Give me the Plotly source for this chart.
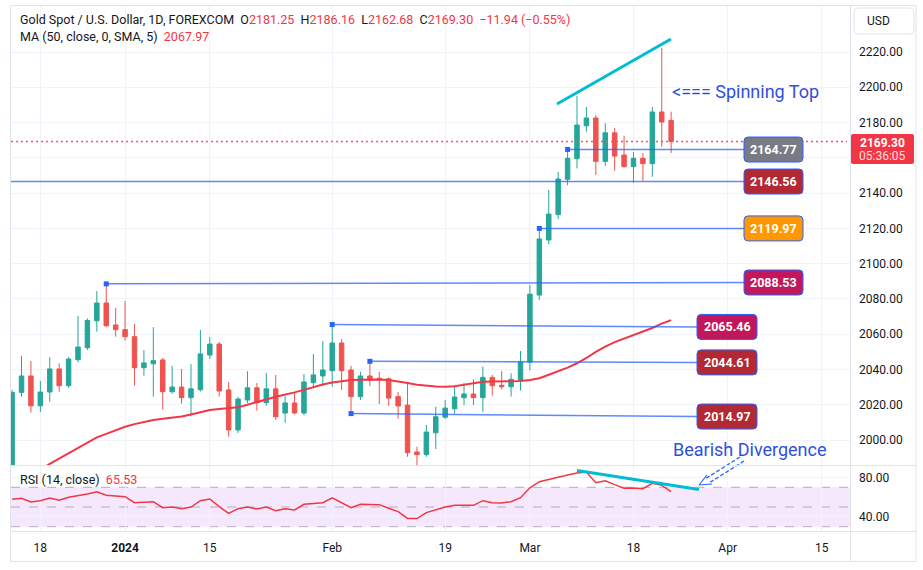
import plotly.graph_objects as go

# ---------------- data ----------------
dates = ["2023-12-13", "2023-12-14", "2023-12-15", "2023-12-18", "2023-12-19", "2023-12-20", "2023-12-21",
         "2023-12-22", "2023-12-26", "2023-12-27", "2023-12-28", "2023-12-29", "2024-01-02", "2024-01-03",
         "2024-01-04", "2024-01-05", "2024-01-08", "2024-01-09", "2024-01-10", "2024-01-11", "2024-01-12",
         "2024-01-15", "2024-01-16", "2024-01-17", "2024-01-18", "2024-01-19", "2024-01-22", "2024-01-23",
         "2024-01-24", "2024-01-25", "2024-01-26", "2024-01-29", "2024-01-30", "2024-01-31", "2024-02-01",
         "2024-02-02", "2024-02-05", "2024-02-06", "2024-02-07", "2024-02-08", "2024-02-09", "2024-02-12",
         "2024-02-13", "2024-02-14", "2024-02-15", "2024-02-16", "2024-02-19", "2024-02-20", "2024-02-21",
         "2024-02-22", "2024-02-23", "2024-02-26", "2024-02-27", "2024-02-28", "2024-02-29", "2024-03-01",
         "2024-03-04", "2024-03-05", "2024-03-06", "2024-03-07", "2024-03-08", "2024-03-11", "2024-03-12",
         "2024-03-13", "2024-03-14", "2024-03-15", "2024-03-18", "2024-03-19", "2024-03-20", "2024-03-21",
         "2024-03-22"]

opens = [1981.6, 2027.0, 2036.3, 2019.4, 2027.2, 2040.3, 2030.8, 2045.5, 2052.3, 2067.6, 2077.7, 2065.2,
         2062.6, 2058.6, 2041.0, 2043.2, 2045.4, 2027.4, 2030.0, 2024.0, 2028.5, 2048.2, 2054.4, 2028.4,
         2005.7, 2022.7, 2029.6, 2021.2, 2029.0, 2015.3, 2021.0, 2015.3, 2032.5, 2036.3, 2039.3, 2055.0,
         2039.7, 2024.6, 2036.3, 2035.0, 2034.7, 2024.6, 2019.8, 1993.2, 1991.7, 2004.1, 2012.9, 2017.7,
         2024.0, 2026.1, 2024.0, 2035.5, 2031.0, 2030.2, 2034.0, 2044.2, 2082.2, 2113.4, 2127.8, 2147.8,
         2159.5, 2178.2, 2182.6, 2158.0, 2174.2, 2161.6, 2155.0, 2159.7, 2156.7, 2186.0, 2181.25]
highs = [2028.4, 2047.6, 2044.8, 2033.5, 2047.0, 2043.5, 2047.0, 2070.4, 2069.0, 2084.5, 2088.5, 2074.8,
         2078.8, 2065.8, 2051.0, 2064.0, 2046.6, 2042.0, 2040.3, 2043.0, 2062.4, 2058.4, 2055.6, 2032.9,
         2024.5, 2039.0, 2032.3, 2038.0, 2036.9, 2025.0, 2026.8, 2037.4, 2048.8, 2056.1, 2065.5, 2057.3,
         2042.0, 2038.7, 2044.6, 2038.7, 2035.5, 2027.2, 2031.8, 1996.2, 2008.5, 2018.9, 2022.7, 2030.8,
         2032.3, 2034.4, 2041.6, 2036.9, 2039.1, 2037.8, 2050.5, 2088.0, 2120.0, 2141.8, 2152.0, 2164.8,
         2195.0, 2188.8, 2184.3, 2179.7, 2177.0, 2172.5, 2163.3, 2162.7, 2188.8, 2222.4, 2186.16]
lows = [1973.1, 2024.6, 2015.5, 2015.9, 2021.7, 2027.4, 2029.5, 2044.0, 2051.0, 2061.4, 2064.0, 2058.6,
        2056.3, 2030.8, 2036.4, 2024.6, 2017.2, 2026.2, 2020.6, 2013.4, 2027.5, 2045.9, 2024.6, 2001.9,
        2004.0, 2021.0, 2016.6, 2019.4, 2011.5, 2009.8, 2014.5, 2014.0, 2029.3, 2030.8, 2030.2, 2028.4,
        2015.0, 2022.7, 2030.6, 2020.4, 2019.4, 2012.1, 1990.5, 1984.5, 1990.5, 1994.9, 2012.0, 2015.0,
        2019.8, 2019.8, 2016.0, 2025.1, 2028.7, 2024.6, 2028.0, 2039.5, 2079.4, 2111.0, 2125.3, 2144.4,
        2154.0, 2174.8, 2150.3, 2155.4, 2152.7, 2154.5, 2145.9, 2147.0, 2149.3, 2166.3, 2162.68]
closes = [2027.0, 2036.3, 2019.4, 2027.2, 2040.3, 2030.8, 2045.9, 2052.7, 2067.8, 2077.7, 2064.8, 2062.6,
          2058.6, 2041.0, 2043.7, 2045.0, 2027.4, 2030.0, 2024.0, 2029.0, 2048.8, 2054.4, 2027.8, 2005.7,
          2023.2, 2029.6, 2021.2, 2029.0, 2013.2, 2021.0, 2015.3, 2032.9, 2036.9, 2039.7, 2055.0, 2039.3,
          2024.6, 2036.3, 2034.0, 2034.0, 2023.8, 2019.3, 1992.8, 1991.7, 2004.5, 2013.2, 2018.1, 2024.4,
          2026.1, 2024.0, 2035.5, 2030.8, 2030.2, 2034.4, 2044.2, 2082.7, 2114.0, 2128.1, 2148.0, 2159.7,
          2178.6, 2182.6, 2158.0, 2174.2, 2161.0, 2155.0, 2159.7, 2156.7, 2186.0, 2180.3, 2169.30]
ma50 = [1974.0, 1977.0, 1980.0, 1983.0, 1986.5, 1989.5, 1992.5, 1995.5, 1998.5, 2001.5, 2003.5, 2005.5,
        2007.5, 2009.0, 2010.3, 2011.3, 2012.0, 2012.7, 2013.3, 2014.5, 2015.7, 2017.0, 2017.6, 2018.0,
        2018.5, 2020.0, 2021.7, 2023.0, 2024.5, 2025.6, 2027.0, 2028.4, 2030.0, 2031.5, 2032.6, 2033.4,
        2034.0, 2034.2, 2034.3, 2034.3, 2034.0, 2033.3, 2032.3, 2031.3, 2030.7, 2030.3, 2030.2, 2030.5,
        2031.3, 2032.2, 2033.0, 2033.2, 2033.2, 2033.2, 2033.4, 2034.0, 2035.0, 2037.0, 2039.0, 2041.0,
        2043.5, 2046.5, 2050.0, 2053.0, 2055.5, 2057.5, 2059.5, 2061.3, 2063.5, 2066.0, 2067.97]
rsi14 = [57.8, 58.8, 55.1, 56.4, 59.1, 56.8, 59.8, 61.2, 63.2, 65.5, 61.9, 61.2, 60.5, 54.4, 55.1, 55.4,
         49.3, 50.0, 48.3, 50.0, 56.4, 58.1, 50.3, 43.5, 48.3, 50.0, 48.0, 50.0, 46.3, 48.3, 47.0, 52.7,
         53.5, 54.4, 59.4, 54.4, 49.3, 52.7, 52.4, 52.4, 48.7, 45.3, 38.4, 38.2, 44.3, 47.3, 50.0, 51.7,
         52.0, 51.7, 56.4, 54.4, 54.1, 55.4, 59.4, 69.5, 75.7, 78.1, 80.8, 82.5, 84.5, 85.5, 74.7, 76.7,
         72.7, 69.0, 69.3, 68.6, 74.1, 72.0, 65.53]

tick_index = [3, 12, 21, 34, 46, 55, 66, 76, 86]
tick_labels = ["18", "<b>2024</b>", "15", "Feb", "19", "Mar", "18", "Apr", "15"]
price_ticks = [2000, 2020, 2040, 2060, 2080, 2100, 2120, 2140, 2160, 2180, 2200, 2220]
rsi_ticks = [40, 80]

level_values = [2164.77, 2146.56, 2119.97, 2088.53, 2065.46, 2044.61, 2014.97]
level_start_dates = ["2024-03-07", None, "2024-03-04", "2023-12-28", "2024-02-01", "2024-02-07", "2024-02-05"]
level_end_values = [2164.7, 2146.56, 2119.97, 2089.3, 2064.1, 2044.0, 2013.3]
level_colors = ["#787b86", "#b22833", "#ff9800", "#c2185b", "#c2185b", "#b22833", "#b22833"]

last_open, last_high, last_low, last_close = 2181.25, 2186.16, 2162.68, 2169.30
change, change_pct = -11.94, -0.55
ma_last, rsi_last = 2067.97, 65.53

# ---------------- geometry helpers ----------------
L, R, T, B = 11, 850, 6, 531
W, H = 923, 570
BAR0, BAR_W = 12.1, 9.415
PANE_BOTTOM, RSI_TOP = 465, 466


def px_x(p):
    return (p - L) / (R - L)


def px_y(p):
    return (B - p) / (B - T)


def idx_from_px(p):
    return (p - BAR0) / BAR_W


P_PER_PX = 1.7636


def price_from_px(p):
    return 2000 + (440 - p) / P_PER_PX


def rsi_from_px(p):
    return 70 - (p - 487.3) / 0.985


idx = list(range(len(dates)))
pos = {d: i for i, d in enumerate(dates)}

RED = "#f23645"
GREEN = "#26a69a"
CAND_RED = "#ef5350"
BLUE = "#2962ff"
TXT = "#131722"
GRID = "#f0f3fa"
BORDER = "#e0e3eb"
FONT = "Roboto"

fig = go.Figure()

fig.add_trace(go.Candlestick(
    x=idx, open=opens, high=highs, low=lows, close=closes,
    increasing=dict(line=dict(color=GREEN, width=1), fillcolor=GREEN),
    decreasing=dict(line=dict(color=CAND_RED, width=1), fillcolor=CAND_RED),
    whiskerwidth=0, hoverinfo="skip", xaxis="x", yaxis="y", showlegend=False))

fig.add_trace(go.Scatter(x=idx, y=ma50, mode="lines", line=dict(color=RED, width=2),
                         hoverinfo="skip", showlegend=False, xaxis="x", yaxis="y"))

fig.add_trace(go.Scatter(x=idx, y=rsi14, mode="lines", line=dict(color=RED, width=1.5),
                         hoverinfo="skip", showlegend=False, xaxis="x2", yaxis="y2"))

shapes = []
annotations = []

# RSI band and dashed levels
shapes.append(dict(type="rect", xref="x2 domain", yref="y2", x0=0, x1=1, y0=30, y1=70,
                   fillcolor="rgba(160,50,225,0.11)", line=dict(width=0), layer="below"))
for lv in (70, 50, 30):
    shapes.append(dict(type="line", xref="x2 domain", yref="y2", x0=0, x1=1, y0=lv, y1=lv,
                       line=dict(color="rgba(120,123,134,0.55)", width=1, dash="dash"), layer="below"))

# current price dotted line (pixel-aligned)
shapes.append(dict(type="line", xref="paper", yref="paper", x0=0, x1=px_x(847),
                   y0=px_y(141.5), y1=px_y(141.5),
                   line=dict(color="#f7525f", width=1.3, dash="2px,3px")))

# level rays with start points and value tags
dot_x, dot_y = [], []
tag_right_px = (744, 803)
tag_left_px = (697, 757)
for k, (val, sd, ev, col) in enumerate(zip(level_values, level_start_dates, level_end_values, level_colors)):
    left_group = k >= 4
    end_px = tag_left_px[0] if left_group else tag_right_px[0]
    x_end = idx_from_px(end_px)
    x_start = pos[sd] if sd else idx_from_px(L - 2)
    shapes.append(dict(type="line", xref="x", yref="y", x0=x_start, x1=x_end, y0=val, y1=ev,
                       line=dict(color="rgba(41,98,255,0.75)", width=1.5)))
    if sd:
        dot_x.append(pos[sd])
        dot_y.append(val)
    cx_px = (tag_left_px if left_group else tag_right_px)
    cx = idx_from_px((cx_px[0] + cx_px[1]) / 2)
    w, h, r = cx_px[1] - cx_px[0], 25, 4
    hw, hh = w / 2, h / 2
    path = (f"M {-hw + r},{-hh} L {hw - r},{-hh} Q {hw},{-hh} {hw},{-hh + r} L {hw},{hh - r} "
            f"Q {hw},{hh} {hw - r},{hh} L {-hw + r},{hh} Q {-hw},{hh} {-hw},{hh - r} "
            f"L {-hw},{-hh + r} Q {-hw},{-hh} {-hw + r},{-hh} Z")
    shapes.append(dict(type="path", xref="x", yref="y", xsizemode="pixel", ysizemode="pixel",
                       xanchor=cx, yanchor=ev, path=path, fillcolor=col,
                       line=dict(color=BLUE, width=1)))
    annotations.append(dict(x=cx, y=ev, xref="x", yref="y", text=f"<b>{val:.2f}</b>", showarrow=False,
                            font=dict(family=FONT, size=12.5, color="white"), xanchor="center",
                            yanchor="middle"))

fig.add_trace(go.Scatter(x=dot_x, y=dot_y, mode="markers",
                         marker=dict(symbol="square", size=5, color=BLUE),
                         hoverinfo="skip", showlegend=False, xaxis="x", yaxis="y", cliponaxis=False))

# cyan trend lines
shapes.append(dict(type="line", xref="x", yref="y", x0=idx_from_px(557), y0=price_from_px(104),
                   x1=idx_from_px(671), y1=price_from_px(39), line=dict(color="#00bcd4", width=3)))
shapes.append(dict(type="line", xref="x2", yref="y2", x0=idx_from_px(577), y0=rsi_from_px(470.5),
                   x1=idx_from_px(699), y1=rsi_from_px(489.5), line=dict(color="#00bcd4", width=3)))

# dashed double arrow (Bearish Divergence)
def pline(x0, y0, x1, y1, color=BLUE, width=1.3, dash="dash"):
    shapes.append(dict(type="line", xref="paper", yref="paper", x0=px_x(x0), y0=px_y(y0),
                       x1=px_x(x1), y1=px_y(y1), line=dict(color=color, width=width, dash=dash)))

pline(740, 457, 705, 479, dash="4px,2px")
pline(744, 461, 709, 483, dash="4px,2px")
pline(699, 485, 707, 475, dash="solid", width=1.2)
pline(699, 485, 712, 484, dash="solid", width=1.2)

# frame and separators
shapes.append(dict(type="rect", xref="paper", yref="paper", x0=px_x(10.5), x1=px_x(916), y0=px_y(5.5),
                   y1=px_y(561.5), line=dict(color=BORDER, width=1), layer="above"))
pline(850.5, 5.5, 850.5, 561.5, color=BORDER, width=1, dash="solid")
pline(10.5, 465.5, 916, 465.5, color=BORDER, width=1, dash="solid")
pline(10.5, 531.5, 916, 531.5, color=BORDER, width=1, dash="solid")

# USD button
def rounded(x0, y0, x1, y1, r, fill, line_col, lw=1):
    X0, X1, Y0, Y1 = px_x(x0), px_x(x1), px_y(y0), px_y(y1)
    rx = r / (R - L)
    ry = r / (B - T)
    path = (f"M {X0 + rx},{Y0} L {X1 - rx},{Y0} Q {X1},{Y0} {X1},{Y0 - ry} L {X1},{Y1 + ry} "
            f"Q {X1},{Y1} {X1 - rx},{Y1} L {X0 + rx},{Y1} Q {X0},{Y1} {X0},{Y1 + ry} "
            f"L {X0},{Y0 - ry} Q {X0},{Y0} {X0 + rx},{Y0} Z")
    shapes.append(dict(type="path", xref="paper", yref="paper", path=path, fillcolor=fill,
                       line=dict(color=line_col, width=lw)))

rounded(854, 8, 914, 34, 4, "white", BORDER)
annotations.append(dict(x=px_x(865), y=px_y(21), xref="paper", yref="paper", text="USD", showarrow=False,
                        xanchor="left", yanchor="middle", font=dict(family=FONT, size=12, color=TXT)))

# last price tag on axis
rounded(851, 134, 914, 164, 2, RED, RED, 0)
annotations.append(dict(x=px_x(882), y=px_y(142.5), xref="paper", yref="paper", text=f"<b>{last_close:.2f}</b>",
                        showarrow=False, xanchor="center", yanchor="middle",
                        font=dict(family=FONT, size=12, color="white")))
annotations.append(dict(x=px_x(882), y=px_y(156.5), xref="paper", yref="paper", text="05:36:05",
                        showarrow=False, xanchor="center", yanchor="middle",
                        font=dict(family=FONT, size=12, color="rgba(255,255,255,0.85)")))

# header text
sp = "\u00a0"
def red(s):
    return f'<span style="color:{RED}">{s}</span>'

head1 = (f"Gold Spot / U.S. Dollar, 1D, FOREXCOM{sp}{sp}O{red(f'{last_open:.2f}')}{sp}{sp}"
         f"H{red(f'{last_high:.2f}')}{sp}{sp}L{red(f'{last_low:.2f}')}{sp}{sp}C{red(f'{last_close:.2f}')}"
         f"{sp}{sp}{red(f'−{abs(change):.2f} (−{abs(change_pct):.2f}%)')}")
head2 = f"MA (50, close, 0, SMA, 5){sp}{sp}{red(f'{ma_last:.2f}')}"
head3 = f"RSI (14, close){sp}{sp}{red(f'{rsi_last:.2f}')}"
for txt, yy in ((head1, 19.5), (head2, 36.5), (head3, 480)):
    annotations.append(dict(x=px_x(18), y=px_y(yy), xref="paper", yref="paper", text=txt, showarrow=False,
                            xanchor="left", yanchor="middle", font=dict(family=FONT, size=12.5, color=TXT)))

annotations.append(dict(x=px_x(670), y=px_y(91.5), xref="paper", yref="paper", text="<=== Spinning Top",
                        showarrow=False, xanchor="left", yanchor="middle",
                        font=dict(family=FONT, size=18, color="#2f4fe0")))
annotations.append(dict(x=px_x(671), y=px_y(449), xref="paper", yref="paper", text="Bearish Divergence",
                        showarrow=False, xanchor="left", yanchor="middle",
                        font=dict(family=FONT, size=18, color="#2f4fe0")))

x_range = [idx_from_px(L), idx_from_px(R)]
y_range = [price_from_px(PANE_BOTTOM), price_from_px(T)]
r_range = [rsi_from_px(B), rsi_from_px(RSI_TOP)]

fig.update_layout(
    width=W, height=H, margin=dict(l=L, r=W - R, t=T, b=H - B),
    paper_bgcolor="white", plot_bgcolor="white", showlegend=False,
    boxgap=0.32,
    font=dict(family=FONT, size=12, color=TXT),
    xaxis=dict(domain=[0, 1], anchor="y", range=x_range, tickvals=tick_index, showticklabels=False,
               showgrid=True, gridcolor=GRID, gridwidth=1, zeroline=False, showline=False,
               rangeslider=dict(visible=False), fixedrange=True),
    yaxis=dict(domain=[px_y(PANE_BOTTOM), 1], anchor="x", side="right", range=y_range,
               tickvals=price_ticks, ticktext=["" if v == 2160 else f"{v:.2f}" for v in price_ticks],
               showgrid=True, gridcolor=GRID, zeroline=False, showline=False, ticks="",
               ticklabelstandoff=8, tickfont=dict(family=FONT, size=12, color=TXT)),
    xaxis2=dict(domain=[0, 1], anchor="y2", matches="x", range=x_range, tickvals=tick_index,
                ticktext=tick_labels, showgrid=True, gridcolor=GRID, zeroline=False, showline=False,
                ticks="", ticklabelstandoff=8, tickfont=dict(family=FONT, size=12, color=TXT)),
    yaxis2=dict(domain=[0, px_y(RSI_TOP)], anchor="x2", side="right", range=r_range,
                tickvals=rsi_ticks, ticktext=[f"{v:.2f}" for v in rsi_ticks], showgrid=True,
                gridcolor=GRID, zeroline=False, showline=False, ticks="", ticklabelstandoff=8,
                tickfont=dict(family=FONT, size=12, color=TXT)),
    shapes=shapes, annotations=annotations,
)

fig.write_html("out.html", post_script="document.body.style.margin='0';",
               config={"displayModeBar": False})
